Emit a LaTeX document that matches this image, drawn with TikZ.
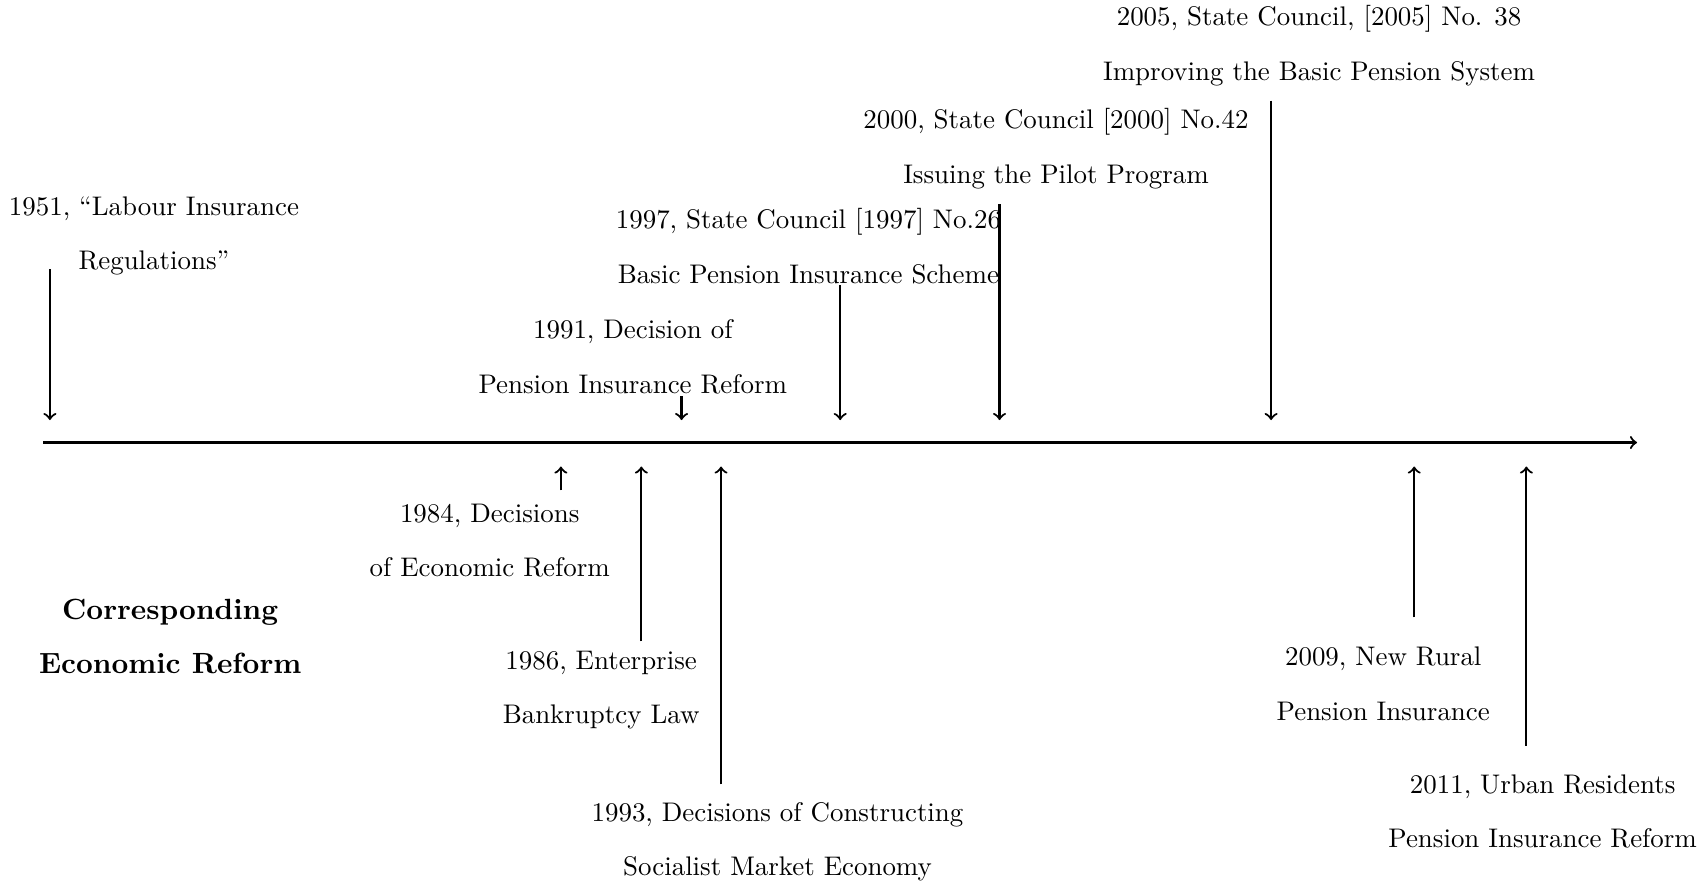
\documentclass[tikz,border=0pt]{standalone}
\usepackage{amsmath, amssymb}
\usepackage{tikz}

\begin{document}
\begin{tikzpicture}[
    event/.style={align=center, font=\fontsize{9.9pt}{20pt}\selectfont},
    heading/.style={align=center, font=\fontsize{10.75pt}{20pt}\selectfont\bfseries},
    link/.style={thick, ->}
  ]

    \useasboundingbox (0,0) rectangle (22,11.42);

    % ==========================================
    % TIME AXIS
    % ==========================================
    \coordinate (axisL) at (0.56, 5.70);
    \coordinate (axisR) at (21.16, 5.70);
    \draw[thick, ->] (axisL) -- (axisR);

    % ==========================================
    % ABOVE THE AXIS: Pension Reform
    % ==========================================

    % 1951
    \node[event] (e1951) at (1.99, 8.37) {1951, ``Labour Insurance\\Regulations''};
    \coordinate (s1951) at (0.645, 7.94);
    \coordinate (p1951) at (0.645, 5.99);
    \draw[link] (s1951) -- (p1951);

    % 1991
    \node[event] (e1991) at (8.18, 6.81) {1991, Decision of\\Pension Insurance Reform};
    \coordinate (s1991) at (8.81, 6.30);
    \coordinate (p1991) at (8.81, 5.99);
    \draw[link] (s1991) -- (p1991);

    % 1997
    \node[event] (e1997) at (10.45, 8.24) {1997, State Council [1997] No.26\\Basic Pension Insurance Scheme};
    \coordinate (s1997) at (10.86, 7.73);
    \coordinate (p1997) at (10.86, 5.99);
    \draw[link] (s1997) -- (p1997);

    % 2000
    \node[event] (e2000) at (13.65, 9.50) {2000, State Council [2000] No.42\\Issuing the Pilot Program};
    \coordinate (s2000) at (12.92, 8.78);
    \coordinate (p2000) at (12.92, 5.99);
    \draw[link] (s2000) -- (p2000);

    % 2005
    \node[event] (e2005) at (17.05, 10.83) {2005, State Council, [2005] No. 38\\Improving the Basic Pension System};
    \coordinate (s2005) at (16.43, 10.12);
    \coordinate (p2005) at (16.43, 5.99);
    \draw[link] (s2005) -- (p2005);

    % ==========================================
    % BELOW THE AXIS: Corresponding Economic Reform
    % ==========================================
    \node[heading] (title) at (2.20, 3.19) {Corresponding\\Economic Reform};

    % 1984
    \node[event] (e1984) at (6.33, 4.43) {1984, Decisions\\of Economic Reform};
    \coordinate (s1984) at (7.25, 5.08);
    \coordinate (p1984) at (7.25, 5.39);
    \draw[link] (s1984) -- (p1984);

    % 1986
    \node[event] (e1986) at (7.77, 2.50) {1986, Enterprise\\Bankruptcy Law};
    \coordinate (s1986) at (8.29, 3.13);
    \coordinate (p1986) at (8.29, 5.39);
    \draw[link] (s1986) -- (p1986);

    % 1993
    \node[event] (e1993) at (10.05, 0.54) {1993, Decisions of Constructing\\Socialist Market Economy};
    \coordinate (s1993) at (9.32, 1.28);
    \coordinate (p1993) at (9.32, 5.39);
    \draw[link] (s1993) -- (p1993);

    % 2009
    \node[event] (e2009) at (17.88, 2.58) {2009, New Rural\\Pension Insurance};
    \coordinate (s2009) at (18.28, 3.44);
    \coordinate (p2009) at (18.28, 5.39);
    \draw[link] (s2009) -- (p2009);

    % 2011
    \node[event] (e2011) at (19.94, 0.93) {2011, Urban Residents\\Pension Insurance Reform};
    \coordinate (s2011) at (19.73, 1.78);
    \coordinate (p2011) at (19.73, 5.39);
    \draw[link] (s2011) -- (p2011);

\end{tikzpicture}
\end{document}
